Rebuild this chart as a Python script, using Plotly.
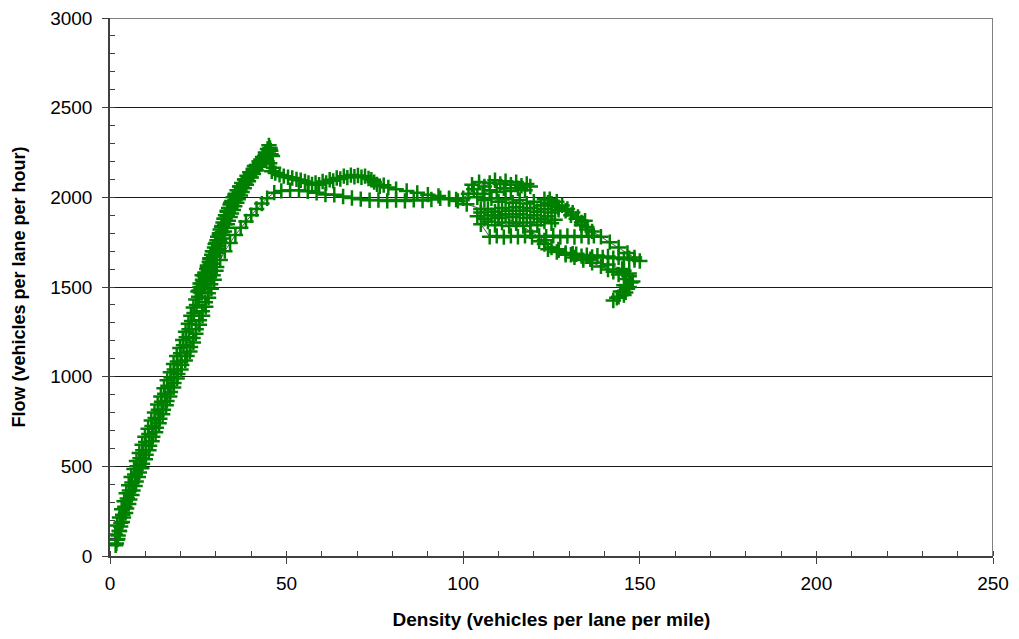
import plotly.graph_objects as go

# ---- data: density (veh/lane/mile) and flow (veh/lane/hour), in time order ----
rise_density = [1.6, 2.2, 1.5, 2.6, 2.0, 3.1, 2.7, 3.6, 3.3, 4.2, 4.0, 4.9, 4.6, 5.5, 5.3, 6.2, 6.0, 7.0, 6.8, 7.7,
                7.5, 8.5, 8.3, 9.3, 9.1, 10.1, 9.9, 11.0, 10.8, 11.9, 11.7, 12.8, 12.6, 13.7, 13.5, 14.6, 14.4, 15.5, 15.3, 16.4,
                16.2, 17.3, 17.1, 18.2, 18.0, 19.1, 18.9, 20.0, 19.8, 20.8, 20.6, 21.6, 21.4, 22.4, 22.2, 23.1, 22.9, 23.8, 23.6, 24.5,
                24.3, 25.1, 24.9, 25.8, 25.5, 26.4, 26.1, 27.0, 27.6, 28.4, 28.3, 29.3, 29.3, 30.3, 30.0, 31.0, 31.0, 31.8, 31.6, 32.5,
                32.3, 33.2, 33.2, 34.2, 34.2, 35.4, 35.4, 36.6, 36.8, 38.0, 38.2, 39.4, 39.6, 40.6, 40.9, 41.8, 42.2, 42.9, 43.2, 43.8,
                44.0, 44.8, 44.6, 45.5, 45.0]
rise_flow = [60, 95, 120, 140, 170, 185, 215, 230, 260, 275, 305, 320, 350, 365, 395, 410, 440, 455, 485, 500,
             530, 545, 575, 590, 620, 635, 665, 680, 710, 725, 755, 770, 800, 815, 845, 860, 890, 905, 935, 950,
             980, 995, 1025, 1040, 1070, 1085, 1115, 1130, 1160, 1175, 1205, 1220, 1250, 1265, 1295, 1310, 1340, 1355, 1385, 1400,
             1430, 1445, 1475, 1490, 1520, 1535, 1565, 1580, 1610, 1625, 1655, 1670, 1700, 1715, 1745, 1760, 1790, 1805, 1835, 1850,
             1880, 1895, 1925, 1940, 1970, 1985, 2015, 2030, 2060, 2075, 2100, 2115, 2140, 2150, 2175, 2180, 2200, 2205, 2225, 2230,
             2250, 2245, 2270, 2260, 2290]

dip_density = [44.0, 43.0, 42.2, 41.4, 40.6, 40.0, 39.2, 38.6, 38.0, 37.4, 36.9, 36.3, 35.9, 35.3, 34.9, 34.4, 34.0, 33.5, 33.2, 32.7,
               32.4, 31.9, 31.6, 31.1, 30.8, 30.3, 30.0, 29.5, 29.2, 28.7, 28.4, 27.9, 27.6, 27.1, 26.9, 26.4, 26.1, 25.6]
dip_flow = [2210, 2190, 2170, 2150, 2130, 2110, 2090, 2070, 2050, 2030, 2010, 1990, 1970, 1950, 1930, 1910, 1890, 1870, 1850, 1830,
            1810, 1790, 1770, 1750, 1730, 1710, 1690, 1670, 1650, 1630, 1610, 1590, 1570, 1550, 1530, 1510, 1490, 1470]

reclimb_density = [25.2, 25.5, 25.9, 26.2, 26.7, 26.9, 27.4, 27.6, 28.1, 28.3, 28.8, 29.0, 29.6, 29.8, 30.3, 30.5, 31.0, 31.2, 31.7, 32.0,
                   32.4, 32.7, 33.2, 33.6, 34.0, 34.5, 34.9, 35.5, 36.0, 36.7, 37.3, 38.1, 38.8, 39.7, 40.6, 41.5, 42.5, 43.4, 44.2, 45.3]
reclimb_flow = [1480, 1500, 1520, 1540, 1560, 1580, 1600, 1620, 1640, 1660, 1680, 1700, 1720, 1740, 1760, 1780, 1800, 1820, 1840, 1860,
                1880, 1900, 1920, 1940, 1960, 1980, 2000, 2020, 2040, 2060, 2080, 2100, 2120, 2140, 2160, 2180, 2200, 2220, 2245, 2275]

peak_density = [45.6, 44.3, 43.0, 44.0, 45.3, 46.0, 45.2, 46.3, 45.8, 46.8]
peak_flow = [2240, 2215, 2195, 2225, 2265, 2230, 2190, 2165, 2145, 2135]

wave_density = [48.0, 49.2, 50.4, 51.6, 52.8, 54.0, 55.2, 56.2, 57.2, 58.2, 59.2, 60.2, 61.2, 62.2, 63.2, 64.2, 65.2, 66.2, 67.2, 68.2,
                69.2, 70.2, 71.2, 72.2, 73.2, 74.0, 74.8, 75.6, 76.4, 77.5, 78.8, 81.0, 84.0, 87.0, 90.0, 93.0, 96.0, 98.0]
wave_flow = [2125, 2118, 2112, 2108, 2100, 2095, 2088, 2080, 2072, 2080, 2070, 2088, 2080, 2098, 2092, 2108, 2102, 2118, 2110, 2124,
             2115, 2122, 2112, 2118, 2105, 2098, 2085, 2072, 2062, 2068, 2055, 2045, 2035, 2025, 2015, 2008, 1995, 1988]

congested_density = [100, 101.5, 103, 102.5, 104.5, 106, 107.5, 109, 110.5, 112, 113.5, 115, 116.5, 118, 119, 117.5, 115.5, 113.5, 111.5, 109.5,
                     107.5, 105.5, 104, 106, 108, 110, 112, 114, 116, 118, 120, 122, 124, 126, 127, 125, 123, 121, 119, 117,
                     115, 113, 111, 109, 107, 105, 104, 106, 108, 110, 112, 114, 116, 118, 120, 122, 124, 126, 125, 123,
                     121, 119, 117, 115, 113, 111, 109, 107, 105,
                     107.5, 109.5, 111.5, 113.5, 115.5, 117.5, 119.5, 121.5, 123.5, 125.5, 127.5, 129.5, 131.5, 133.5, 135.5, 137,
                     135, 133.5, 134.5, 132.5, 131, 129.5, 128, 126.5, 124.5, 123, 125, 127, 129, 130.5, 132, 133.5, 135, 136.5,
                     139, 141.5, 144, 146.5, 148.5, 150,
                     148.5, 147, 145.5, 144, 142.5, 141, 139.5, 138, 136.5, 135, 133.5, 132, 130.5, 129,
                     127, 125, 123, 121.5,
                     124, 126.5, 129, 131.5, 134, 136.5, 139, 141,
                     142.5, 144, 145.5, 147, 146, 147.5, 145.5, 146.5, 144.5, 145.5, 143.5, 142.5, 144, 146, 147, 148, 147, 145,
                     141, 136, 131, 127, 123, 119, 115, 110, 105, 101, 98.5]
congested_flow = [1995, 2020, 2045, 2070, 2085, 2060, 2080, 2095, 2075, 2090, 2070, 2085, 2065, 2075, 2060, 2040, 2050, 2035, 2050, 2030,
                  2040, 2020, 2000, 1985, 1995, 1975, 1990, 1970, 1985, 1965, 1975, 1955, 1970, 1950, 1930, 1915, 1935, 1920, 1940, 1925,
                  1945, 1925, 1940, 1920, 1935, 1915, 1895, 1880, 1900, 1885, 1905, 1890, 1905, 1885, 1900, 1880, 1895, 1875, 1855, 1865,
                  1845, 1860, 1840, 1855, 1840, 1860, 1845, 1865, 1850,
                  1780, 1785, 1778, 1785, 1780, 1786, 1778, 1784, 1780, 1786, 1778, 1784, 1779, 1785, 1780, 1786,
                  1820, 1845, 1870, 1890, 1915, 1935, 1955, 1975, 1990, 1990, 1965, 1945, 1925, 1900, 1880, 1860, 1835, 1810,
                  1780, 1750, 1720, 1690, 1665, 1645,
                  1650, 1660, 1655, 1665, 1660, 1670, 1665, 1675, 1668, 1678, 1672, 1683, 1680, 1690,
                  1705, 1720, 1740, 1755,
                  1710, 1695, 1680, 1665, 1650, 1635, 1615, 1598,
                  1585, 1570, 1590, 1575, 1545, 1525, 1510, 1490, 1475, 1455, 1440, 1425, 1445, 1470, 1500, 1530, 1560, 1600,
                  1625, 1655, 1685, 1710, 1760, 1810, 1860, 1900, 1935, 1962, 1980]

recovery_density = [96, 93.5, 91, 88.5, 86, 83.5, 81, 78.5, 76, 73.5, 71, 68.5, 66, 63.5, 61, 58.5, 56, 53.5, 51, 48.5, 46.5,
                    44.5, 43, 41.5, 40, 38.5, 37, 35.5, 34, 32.5, 31.2, 30.2]
recovery_flow = [1990, 1995, 1988, 1982, 1986, 1980, 1985, 1980, 1985, 1984, 1990, 1996, 2005, 2014, 2016, 2025, 2034, 2040, 2040, 2036, 2026,
                 1995, 1965, 1935, 1900, 1865, 1830, 1790, 1745, 1700, 1650, 1612]

fall_density = [30.0, 29.2, 29.5, 28.5, 28.7, 27.8, 27.9, 27.0, 27.1, 26.1, 26.2, 25.3, 25.3, 24.4, 24.3, 23.5, 23.6, 22.8, 22.6, 21.8,
                21.3, 20.3, 20.1, 19.2, 19.0, 18.1, 18.0, 17.1, 16.9, 16.1, 15.9, 15.1, 14.9, 14.1, 13.9, 13.1, 12.9, 12.1, 11.9, 11.2,
                11.0, 10.2, 10.0, 9.2, 9.0, 8.3, 8.0, 7.4, 7.1, 6.5, 6.2, 5.6, 5.3, 4.7, 4.4, 3.8, 3.5, 3.0, 2.7, 2.3,
                2.0, 1.8]
fall_flow = [1590, 1565, 1540, 1515, 1490, 1465, 1440, 1415, 1390, 1365, 1340, 1315, 1290, 1265, 1240, 1215, 1190, 1165, 1140, 1115,
             1090, 1065, 1040, 1015, 990, 965, 940, 915, 890, 865, 840, 815, 790, 765, 740, 715, 690, 665, 640, 615,
             590, 565, 540, 515, 490, 465, 440, 415, 390, 365, 340, 315, 290, 265, 240, 215, 190, 165, 140, 115,
             90, 70]

density = (rise_density + dip_density + reclimb_density + peak_density + wave_density
           + congested_density + recovery_density + fall_density)
flow = (rise_flow + dip_flow + reclimb_flow + peak_flow + wave_flow
        + congested_flow + recovery_flow + fall_flow)

GREEN = "#008000"
FONT = "Liberation Sans, Arial, sans-serif"

fig = go.Figure()
fig.add_trace(go.Scatter(
    x=density, y=flow, mode="lines+markers",
    line=dict(color="#1e2a1e", width=0.8),
    marker=dict(symbol="cross-thin", size=11, color=GREEN, line=dict(color=GREEN, width=2.5)),
    showlegend=False, hoverinfo="x+y",
))

axis_col = "#404040"
fig.update_layout(
    width=1019, height=639,
    margin=dict(l=110, r=26, t=18, b=83),
    paper_bgcolor="white", plot_bgcolor="white",
    font=dict(family=FONT, color="black"),
    xaxis=dict(
        range=[0, 250], tick0=0, dtick=50, showgrid=False, zeroline=False, automargin=False,
        showline=True, linecolor=axis_col, linewidth=1.5,
        ticks="outside", ticklen=6, tickwidth=1, tickcolor=axis_col,
        minor=dict(dtick=10, ticks="inside", ticklen=5, tickcolor=axis_col, showgrid=False),
        tickfont=dict(size=19, family=FONT, color="black"),
        ticklabelstandoff=3,
        title=dict(text="<b>Density (vehicles per lane per mile)</b>", font=dict(size=19, family=FONT, color="black"), standoff=20),
    ),
    yaxis=dict(
        range=[0, 3000], tick0=0, dtick=500, showgrid=True, gridcolor="#1a1a1a", gridwidth=1, zeroline=False, automargin=False,
        showline=True, linecolor=axis_col, linewidth=1.5,
        ticks="outside", ticklen=6, tickwidth=1, tickcolor=axis_col,
        minor=dict(dtick=100, ticks="inside", ticklen=5, tickcolor=axis_col, showgrid=False),
        tickfont=dict(size=19, family=FONT, color="black"),
        ticklabelstandoff=6,
        title=dict(text="<b>Flow (vehicles per lane per hour)</b>", font=dict(size=18, family=FONT, color="black"), standoff=20),
    ),
    shapes=[
        dict(type="line", xref="x", yref="y", x0=0, x1=250, y0=3000, y1=3000, line=dict(color="#808080", width=2), layer="above"),
        dict(type="line", xref="x", yref="y", x0=250, x1=250, y0=0, y1=3000, line=dict(color="#808080", width=2), layer="above"),
    ],
)

fig.write_html("out.html")
